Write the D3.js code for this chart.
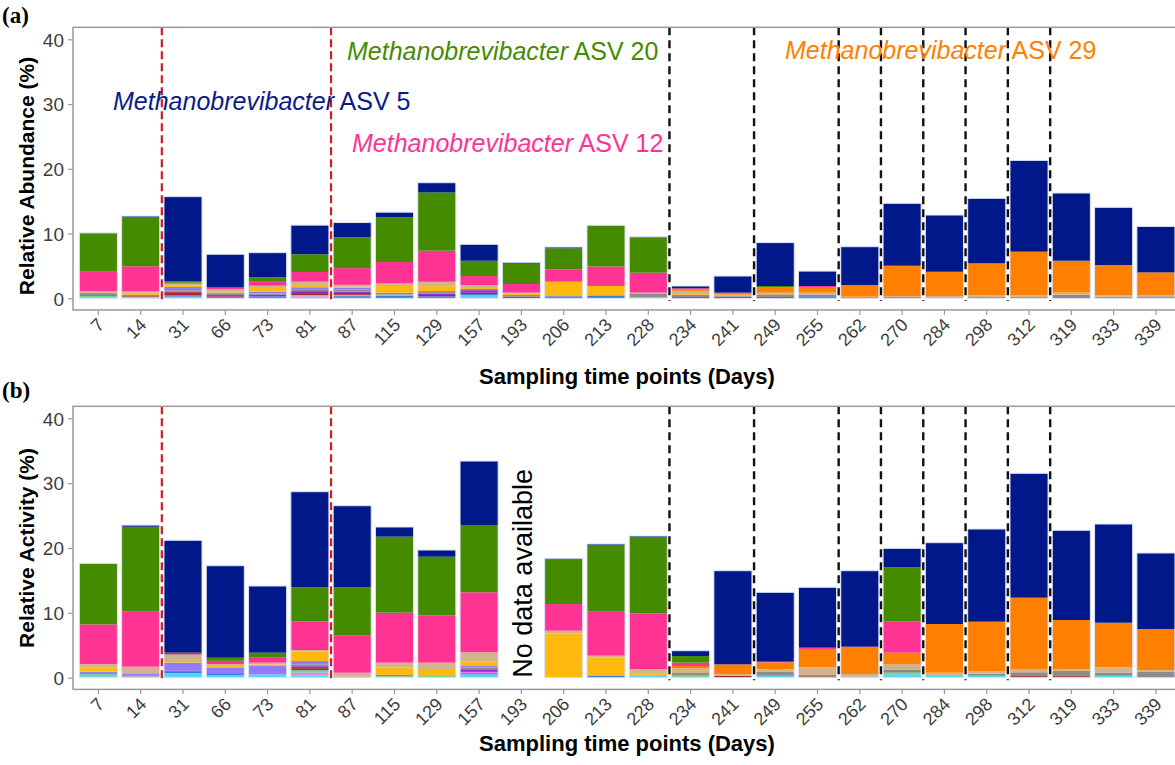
<!DOCTYPE html>
<html>
<head>
<meta charset="utf-8">
<script src="https://cdnjs.cloudflare.com/ajax/libs/d3/7.8.5/d3.min.js"></script>
<style>
  body { margin: 0; background: #fff; }
  text { font-family: "Liberation Sans", Arial, sans-serif; }
</style>
</head>
<body>
<div id="chart"></div>
<script>

// sampling days (x categories)
var days = ["7","14","31","66","73","81","87","115","129","157","193","206","213","228",
            "234","241","249","255","262","270","284","298","312","319","333","339"];

var yTicks = [0, 10, 20, 30, 40];

// stacking order, bottom -> top
var keys = ["cyan","blue","violet","seagreen","darkred","purple","grey","slateblue",
            "gold","tan","asv29","asv12","asv20","asv5"];
var colors = ["#55d6f2","#3b78ee","#f07ef0","#6fd39a","#b0262c","#8e2fc8","#8c8c8c","#8f7cff",
              "#ffb90f","#d2b48c","#ff7f00","#ff3393","#458b00","#00188a"];

// (a) relative abundance (%)
var aCyan      = [0,0,0.25,0,0,0,0,0,0,0.45,0,0,0,0,0,0,0,0,0,0,0,0,0,0,0,0];
var aBlue      = [0.1,0.1,0.2,0.2,0.3,0,0.33,0.37,0.31,0.2,0,0.3,0.36,0,0,0,0,0.32,0,0,0,0,0,0,0,0];
var aViolet    = [0,0,0,0,0,0.31,0,0,0,0,0,0,0,0,0,0,0,0,0,0,0,0,0,0,0,0];
var aSeagreen  = [0.3,0.15,0,0,0,0.2,0.2,0.2,0,0,0,0,0,0.2,0,0,0,0,0,0,0,0,0,0,0,0];
var aDarkred   = [0.1,0.1,0.5,0.1,0,0.3,0.3,0,0.2,0.2,0.23,0,0,0,0.2,0.2,0.21,0,0.15,0.16,0,0,0,0.17,0,0];
var aPurple    = [0,0,0.1,0.2,0.25,0.3,0.2,0,0.2,0.4,0,0,0,0,0,0,0,0,0,0,0,0,0,0,0,0];
var aGrey      = [0.3,0.2,0.2,0.2,0.2,0.3,0.3,0.3,0.4,0.2,0.3,0.06,0.11,0.47,0.34,0.12,0.3,0.2,0,0,0,0.2,0.2,0.4,0.25,0.3];
var aSlateblue = [0,0,0.5,0.2,0.3,0.3,0.3,0,0,0,0,0,0,0,0,0,0,0,0,0,0,0,0,0,0,0];
var aGold      = [0,0.3,0.2,0.2,0.7,0.35,0.15,1.03,0.77,0.3,0.15,2.21,1.44,0,0.1,0,0,0,0,0,0,0,0,0,0,0];
var aTan       = [0.3,0.2,0.3,0.3,0.2,0.5,0.3,0.4,0.67,0.3,0.2,0,0,0.2,0.5,0.25,0.36,0.35,0.1,0.2,0.36,0.3,0.3,0.3,0.25,0.2];
var aASV29     = [0,0,0,0,0,0,0,0,0,0,0,0,0,0,0.2,0.3,0.83,0.88,1.8,4.67,3.74,4.9,6.7,4.93,4.64,3.5];
var aASV12     = [3.0,3.9,0.15,0.2,0.6,1.5,2.58,3.3,4.8,1.39,1.33,1.91,2.99,3.09,0.2,0,0,0.15,0,0,0,0,0,0,0,0];
var aASV20     = [6.0,7.6,0.2,0.15,0.7,2.74,4.74,6.9,9.0,2.36,3.15,3.24,6.27,5.44,0,0,0.2,0,0,0,0,0,0,0,0,0];
var aASV5      = [0,0.15,13.1,5.05,3.8,4.5,2.3,0.8,1.5,2.54,0.2,0.2,0.1,0.1,0.36,2.57,6.7,2.3,5.92,9.64,8.76,10.04,14.1,10.46,8.91,7.1];

// (b) relative activity (%), day 193 has no data
var bCyan      = [0.23,0,0.71,0.4,0.5,0.37,0,0,0,0.5,0,0,0,0.39,0,0,0.3,0,0,0.54,0.27,0.3,0,0,0.3,0];
var bBlue      = [0,0,0.3,0.3,0,0,0,0,0,0.2,0,0,0.26,0,0,0,0,0,0,0,0,0,0,0,0,0];
var bViolet    = [0,0.18,0,0,0,0.4,0,0,0,0.2,0,0,0,0,0,0,0,0,0,0,0,0,0,0,0,0];
var bSeagreen  = [0.3,0,0,0,0,0.4,0,0.21,0.26,0,0,0,0,0,0.32,0,0,0,0,0.3,0,0,0,0,0,0];
var bDarkred   = [0,0,0,0,0,0.3,0,0,0,0,0,0,0,0,0,0.27,0,0.2,0,0.15,0,0,0.24,0.24,0,0];
var bPurple    = [0,0,0.1,0,0,0.3,0,0,0,0.4,0,0,0,0,0,0,0,0,0,0,0,0,0,0,0,0];
var bGrey      = [0.2,0.2,0,0,0,0.3,0.17,0.2,0,0.3,0,0,0,0,0.4,0,0.6,0.22,0.17,0.2,0,0.33,0.6,0.8,0.5,0.89];
var bSlateblue = [0.2,0.3,1.2,0.8,1.3,0.5,0,0,0,0.2,0,0,0,0,0,0,0,0,0,0,0,0,0,0,0,0];
var bGold      = [0.67,0,0.1,0.3,0.25,1.44,0,1.19,0.93,0.67,0,6.85,2.84,0.3,0,0,0,0,0,0,0,0,0,0,0,0];
var bTan       = [0.5,1.02,1.1,0.3,0.27,0.26,0.6,0.72,1.13,1.44,0,0.4,0.3,0.6,0.72,0.3,0.4,1.18,0.4,0.92,0.5,0.4,0.5,0.3,0.8,0.3];
var bASV29     = [0,0,0,0,0,0,0,0,0,0,0,0,0,0,0.36,1.49,1.07,2.83,4.06,1.75,7.51,7.61,11.0,7.56,6.88,6.32];
var bASV12     = [6.12,8.48,0.1,0.5,0.76,4.38,5.71,7.71,7.3,9.26,0,4.11,6.78,8.64,0.52,0,0.1,0.2,0.15,4.78,0,0,0,0,0,0];
var bASV20     = [9.41,13.1,0.25,0.48,0.78,5.29,7.46,11.72,9.04,10.38,0,6.9,10.29,11.77,1.02,0,0,0,0,8.38,0,0,0,0,0,0];
var bASV5      = [0,0.25,17.33,14.19,10.28,14.74,12.58,1.49,1.03,9.86,0,0.15,0.15,0.15,0.82,14.44,10.7,9.31,11.72,2.93,12.54,14.29,19.18,13.83,15.22,11.72];

// dashed separators sit just before these days
var redBreaks = ["31","87"];
var blackBreaks = ["234","249","262","270","284","298","312","319"];

var svg = d3.select("#chart").append("svg")
    .attr("width", 1175)
    .attr("height", 765);

var xScale = d3.scaleBand()
    .domain(days)
    .range([73, 1181.3])
    .paddingInner(0.1)
    .paddingOuter(0.15);

function buildRows(cols) {
  return days.map(function(d, i) {
    var row = {day: d};
    keys.forEach(function(k, j) { row[k] = cols[j][i]; });
    return row;
  });
}

function drawPanel(cfg) {
  var yScale = d3.scaleLinear().domain([0, 40]).range([cfg.y0, cfg.y40]);
  var top = yScale(41.85), bottom = yScale(-1.8);
  var g = svg.append("g");

  var rows = buildRows(cfg.cols);
  var stacked = d3.stack().keys(keys)(rows);

  g.selectAll(".layer")
    .data(stacked)
    .enter().append("g")
      .attr("fill", function(d, i) { return colors[i]; })
    .selectAll("rect")
    .data(function(d) { return d; })
    .enter().append("rect")
      .attr("x", function(d) { return xScale(d.data.day); })
      .attr("width", xScale.bandwidth())
      .attr("y", function(d) { return yScale(d[1]); })
      .attr("height", function(d) { return Math.max(0, yScale(d[0]) - yScale(d[1])); });

  // faint outline round each bar
  g.selectAll(".outline")
    .data(rows.filter(function(r) { return d3.sum(keys, function(k) { return r[k]; }) > 0; }))
    .enter().append("rect")
      .attr("x", function(d) { return xScale(d.day); })
      .attr("width", xScale.bandwidth())
      .attr("y", function(d) { return yScale(d3.sum(keys, function(k) { return d[k]; })); })
      .attr("height", function(d) { return yScale(0) - yScale(d3.sum(keys, function(k) { return d[k]; })); })
      .attr("fill", "none")
      .attr("stroke", "#dde2f4")
      .attr("stroke-width", 1);

  var half = xScale.step() * xScale.paddingInner() / 2;

  g.selectAll(".redline")
    .data(redBreaks)
    .enter().append("line")
      .attr("x1", function(d) { return xScale(d) - half; })
      .attr("x2", function(d) { return xScale(d) - half; })
      .attr("y1", top)
      .attr("y2", yScale(-0.4))
      .attr("stroke", "#d01c1c")
      .attr("stroke-width", 2.2)
      .attr("stroke-dasharray", "8,4");

  g.selectAll(".blackline")
    .data(blackBreaks)
    .enter().append("line")
      .attr("x1", function(d) { return xScale(d) - half; })
      .attr("x2", function(d) { return xScale(d) - half; })
      .attr("y1", top)
      .attr("y2", yScale(-0.4))
      .attr("stroke", "#111")
      .attr("stroke-width", 2.4)
      .attr("stroke-dasharray", "8,5");

  // panel border
  g.append("rect")
    .attr("x", 73)
    .attr("y", top)
    .attr("width", 1181.3 - 73)
    .attr("height", bottom - top)
    .attr("fill", "none")
    .attr("stroke", "#9a9a9a")
    .attr("stroke-width", 1.5);

  // y axis
  var yAxis = g.append("g")
    .attr("transform", "translate(73,0)")
    .call(d3.axisLeft(yScale).tickValues(yTicks).tickSize(5).tickPadding(4));
  yAxis.select(".domain").remove();
  yAxis.selectAll("line").attr("stroke", "#9a9a9a").attr("stroke-width", 1.2);
  yAxis.selectAll("text")
    .style("font-size", "19px")
    .attr("fill", "#3d3d3d")
    .attr("dy", "0.36em");

  // x axis
  var xAxis = g.append("g")
    .attr("transform", "translate(0," + bottom + ")")
    .call(d3.axisBottom(xScale).tickSize(5));
  xAxis.select(".domain").remove();
  xAxis.selectAll("line").attr("stroke", "#9a9a9a").attr("stroke-width", 1.2);
  xAxis.selectAll("text")
    .style("font-size", "18px")
    .attr("fill", "#3d3d3d")
    .attr("text-anchor", "end")
    .attr("y", 0)
    .attr("dy", 0)
    .attr("transform", "translate(7,16) rotate(-45)");

  svg.append("text")
    .attr("x", 627)
    .attr("y", cfg.xTitleY)
    .attr("text-anchor", "middle")
    .style("font-size", "22px")
    .style("font-weight", "bold")
    .text("Sampling time points (Days)");

  svg.append("text")
    .attr("transform", "translate(34," + cfg.yTitleMid + ") rotate(-90)")
    .attr("text-anchor", "middle")
    .style("font-size", "21px")
    .style("font-weight", "bold")
    .text(cfg.yTitle);

  svg.append("text")
    .attr("x", 2)
    .attr("y", cfg.labelY)
    .style("font-family", "'Liberation Serif', 'Times New Roman', serif")
    .style("font-size", "23px")
    .style("font-weight", "bold")
    .text(cfg.label);

  return yScale;
}

drawPanel({
  cols: [aCyan, aBlue, aViolet, aSeagreen, aDarkred, aPurple, aGrey, aSlateblue,
         aGold, aTan, aASV29, aASV12, aASV20, aASV5],
  y0: 298.3, y40: 39.3,
  xTitleY: 384, yTitleMid: 176,
  yTitle: "Relative Abundance (%)",
  label: "(a)", labelY: 23
});

var yB = drawPanel({
  cols: [bCyan, bBlue, bViolet, bSeagreen, bDarkred, bPurple, bGrey, bSlateblue,
         bGold, bTan, bASV29, bASV12, bASV20, bASV5],
  y0: 677.7, y40: 418.3,
  xTitleY: 751, yTitleMid: 548,
  yTitle: "Relative Activity (%)",
  label: "(b)", labelY: 398
});

// taxon annotations in panel (a)
var notes = [
  {asv: "ASV 5",  color: "#0a1a8c", x: 113, y: 110},
  {asv: "ASV 20", color: "#458b00", x: 347, y: 60},
  {asv: "ASV 12", color: "#ff3393", x: 352, y: 152},
  {asv: "ASV 29", color: "#ff7f00", x: 785, y: 59}
];
notes.forEach(function(n) {
  var t = svg.append("text")
    .attr("x", n.x)
    .attr("y", n.y)
    .attr("fill", n.color)
    .style("font-size", "25px");
  t.append("tspan").style("font-style", "italic").text("Methanobrevibacter");
  t.append("tspan").text(" " + n.asv);
});

// missing sample in panel (b)
svg.append("text")
  .attr("transform", "translate(" + (xScale("193") + xScale.bandwidth() / 2 + 11) + "," + yB(0) + ") rotate(-90)")
  .style("font-size", "27px")
  .attr("fill", "#000")
  .text("No data  available");

</script>
</body>
</html>
